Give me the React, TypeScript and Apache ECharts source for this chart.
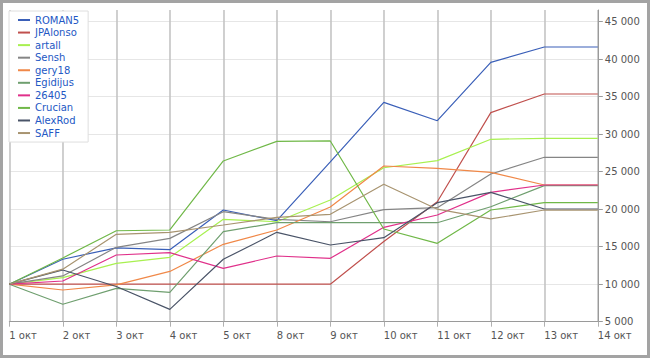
import React, { useEffect, useRef } from "react";
import * as echarts from "echarts";

const categories = ["1 окт", "2 окт", "3 окт", "4 окт", "5 окт", "8 окт", "9 окт", "10 окт", "11 окт", "12 окт", "13 окт", "14 окт"];

const seriesNames = ["ROMAN5", "JPAlonso", "artall", "Sensh", "gery18", "Egidijus", "26405", "Crucian", "AlexRod", "SAFF"];

const roman5 = [10000, 13330, 14850, 14600, 19890, 18470, 26300, 34250, 31800, 39580, 41630, 41630];
const jpAlonso = [10000, 10000, 10000, 10000, 10000, 10000, 10000, 15700, 21000, 32870, 35360, 35360];
const artall = [10000, 10870, 12780, 13580, 18650, 18330, 21230, 25530, 26470, 29320, 29450, 29450];
const sensh = [10000, 11100, 14920, 16110, 19670, 18650, 18330, 19950, 20200, 24690, 26920, 26920];
const gery18 = [10000, 9230, 9900, 11700, 15320, 17230, 20300, 25760, 25450, 24920, 23230, 23230];
const egidijus = [10000, 7320, 9450, 8920, 17000, 18200, 18200, 18200, 18200, 20330, 23140, 23140];
const s26405 = [10000, 10430, 13890, 14200, 12120, 13760, 13450, 17580, 19230, 22250, 23230, 23230];
const crucian = [10000, 13500, 17130, 17230, 26430, 29050, 29100, 17360, 15450, 19890, 20870, 20870];
const alexRod = [10000, 11900, 9700, 6650, 13320, 16920, 15230, 16200, 20870, 22250, 20030, 20030];
const saff = [10000, 12000, 16650, 16910, 17890, 18920, 19320, 23320, 20000, 18700, 19890, 19890];

const seriesData = [roman5, jpAlonso, artall, sensh, gery18, egidijus, s26405, crucian, alexRod, saff];
const seriesColors = ["#3a5fb8", "#c0504d", "#a8f050", "#858585", "#f08848", "#6f9f6f", "#e0308a", "#70b848", "#4a5468", "#a89470"];

const yTicks = { min: 5000, max: 46560, interval: 5000 };
const yTickValues = [5000, 10000, 15000, 20000, 25000, 30000, 35000, 40000, 45000];

function fmt(v: number): string {
  return String(v).replace(/\B(?=(\d{3})+(?!\d))/g, " ");
}

export default function App() {
  const ref = useRef<HTMLDivElement>(null);
  useEffect(() => {
    if (!ref.current) return;
    const chart = echarts.init(ref.current, null, { renderer: "svg" });
    const font = "DejaVu Sans";
    chart.setOption({
      animation: false,
      backgroundColor: "#ffffff",
      grid: { left: 9.3, right: 52.2, top: 10, bottom: 36.3, containLabel: false },
      legend: {
        orient: "vertical",
        left: 9,
        top: 11,
        padding: [3, 9, 3, 9],
        itemGap: 0.56,
        itemWidth: 12,
        itemHeight: 2,
        icon: "rect",
        backgroundColor: "#ffffff",
        borderColor: "#dedede",
        borderWidth: 1,
        data: seriesNames,
        textStyle: { fontFamily: font, fontSize: 10, color: "#2358c4", lineHeight: 12 },
      },
      xAxis: {
        type: "category",
        data: categories,
        boundaryGap: false,
        axisLine: { show: true, lineStyle: { color: "#9a9a9a", width: 1 } },
        axisTick: { show: true, length: 5, lineStyle: { color: "#b0b0b0" } },
        axisLabel: {
          interval: 0,
          align: "left",
          margin: 9,
          fontFamily: font,
          fontSize: 10,
          color: "#555555",
        },
        splitLine: { show: true, lineStyle: { color: "#c4c4c4", width: 1.6 } },
      },
      yAxis: {
        type: "value",
        position: "right",
        min: yTicks.min,
        max: yTicks.max,
        interval: yTicks.interval,
        axisLine: { show: true, lineStyle: { color: "#9a9a9a", width: 1 } },
        axisTick: { show: true, length: 5, customValues: yTickValues, lineStyle: { color: "#9a9a9a" } },
        axisLabel: {
          margin: 7,
          fontFamily: font,
          fontSize: 10,
          color: "#555555",
          customValues: yTickValues,
          formatter: (v: number) => (v % 5000 === 0 ? fmt(v) : ""),
        },
        splitLine: { show: true, lineStyle: { color: "#e6e6e6", width: 1 } },
      },
      graphic: [
        {
          type: "rect",
          shape: { x: 1.5, y: 1.5, width: 647, height: 355 },
          style: { fill: "none", stroke: "#a3a3a3", lineWidth: 3 },
          silent: true,
          z: 100,
        },
      ],
      series: seriesNames.map((name, i) => ({
        name,
        type: "line",
        data: seriesData[i],
        showSymbol: false,
        symbol: "none",
        smooth: false,
        color: seriesColors[i],
        lineStyle: { width: 1.2, color: seriesColors[i] },
      })),
    });
    return () => chart.dispose();
  }, []);
  return (
    <div
      ref={ref}
      style={{ position: "fixed", left: 0, top: 0, width: 650, height: 358 }}
    />
  );
}
